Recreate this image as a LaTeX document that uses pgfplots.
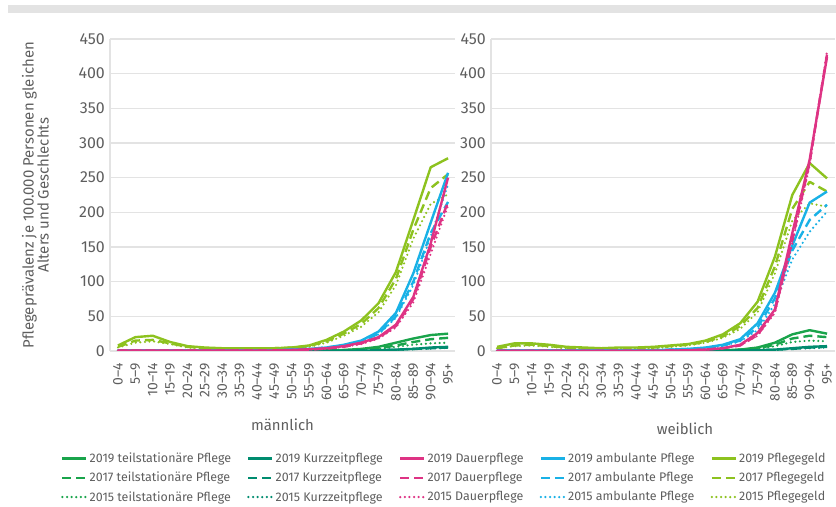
\documentclass[border=0pt]{standalone}
\usepackage{pgfplots}
\pgfplotsset{compat=1.18}
\usepackage{pgfplotstable}
\usepackage{fontspec}
\setmainfont{Fira Sans}
\definecolor{cT}{HTML}{19A44B}
\definecolor{cK}{HTML}{008C6F}
\definecolor{cD}{HTML}{DE3384}
\definecolor{cA}{HTML}{19B1E6}
\definecolor{cP}{HTML}{8DC21F}
\definecolor{txt}{HTML}{5E5E5E}
\definecolor{gridc}{HTML}{E3E3E3}

\pgfplotstableread{
i t19 t17 t15 k19 k17 k15 d19 d17 d15 a19 a17 a15 p19 p17 p15
0 0 0 0 0 0 0 0.5 0.5 0.5 0.8 0.8 0.8 8 6 5
1 0 0 0 0 0 0 0.5 0.5 0.5 0.8 0.8 0.8 20 15 12
2 0 0 0 0 0 0 0.5 0.5 0.5 0.8 0.8 0.8 22 16 14
3 0 0 0 0 0 0 0.5 0.5 0.5 0.8 0.8 0.8 13 11 10
4 0 0 0 0 0 0 0.5 0.5 0.5 0.8 0.8 0.8 7 6 5
5 0 0 0 0 0 0 0.5 0.5 0.5 0.8 0.8 0.8 5 4 4
6 0 0 0 0 0 0 0.5 0.5 0.5 0.8 0.8 0.8 4 4 3
7 0 0 0 0 0 0 0.5 0.5 0.5 0.8 0.8 0.8 4 3 3
8 0 0 0 0 0 0 0.6 0.6 0.6 0.9 0.9 0.9 4 3 3
9 0 0 0 0 0 0 0.8 0.8 0.7 1 1 1 4 4 4
10 0.2 0.2 0.1 0 0 0 1.5 1.2 1 2 2 2 5 5 4
11 0.5 0.3 0.3 0.1 0.1 0.1 2.5 2 2 3 3 3 8 7 6
12 1 0.7 0.5 0.2 0.2 0.1 4 3.5 3 5 5 4 16 14 12
13 1.5 1 1 0.3 0.3 0.2 7 6 6 9 8 8 28 25 22
14 3 2 2 0.5 0.5 0.4 12 11 10 15 14 13 44 39 35
15 6 4 3 1 1 0.8 20 19 18 28 25 24 69 62 56
16 12 8 6 2 2 1.5 38 36 34 55 50 48 114 104 95
17 18 13 9 3 3 2.5 78 75 70 112 100 95 189 175 162
18 23 17 11 5 4 3.5 155 150 140 185 170 165 265 235 212
19 25 19 12 6 5 4.5 250 215 210 257 215 240 278 255 226
}\male

\pgfplotstableread{
i t19 t17 t15 k19 k17 k15 d19 d17 d15 a19 a17 a15 p19 p17 p15
0 0 0 0 0 0 0 0.3 0.3 0.3 0.8 0.8 0.8 6 4 4
1 0 0 0 0 0 0 0.3 0.3 0.3 0.8 0.8 0.8 11 8 7
2 0 0 0 0 0 0 0.3 0.3 0.3 0.8 0.8 0.8 11 9 8
3 0 0 0 0 0 0 0.3 0.3 0.3 0.8 0.8 0.8 9 7 6
4 0 0 0 0 0 0 0.3 0.3 0.3 0.8 0.8 0.8 6 5 4
5 0 0 0 0 0 0 0.3 0.3 0.3 0.8 0.8 0.8 5 4 4
6 0 0 0 0 0 0 0.3 0.3 0.3 0.8 0.8 0.8 4 4 3
7 0 0 0 0 0 0 0.3 0.3 0.3 0.8 0.8 0.8 5 4 3
8 0 0 0 0 0 0 0.3 0.3 0.3 0.9 0.9 0.9 5 4 4
9 0 0 0 0 0 0 0.3 0.3 0.3 1 1 1 6 5 4
10 0 0 0 0 0 0 0.5 0.5 0.5 2 2 2 8 7 6
11 0.2 0.2 0.1 0 0 0 1 1 1 3 3 3 10 9 8
12 0.5 0.5 0.3 0.1 0.1 0.1 2 2 2 5 4 4 15 13 12
13 1 1 0.7 0.3 0.3 0.2 4 4 3.5 9 8 7 24 21 19
14 2 2 1.5 0.5 0.5 0.4 9 8 8 17 15 14 40 36 32
15 5 4 3 1 1 0.8 26 23 22 40 34 30 71 62 56
16 12 9 7 2 2 1.5 60 58 55 84 76 68 136 122 112
17 24 18 13 4 3 3 170 160 155 152 145 132 225 205 188
18 30 22 15 6 5 4 276 272 268 214 189 172 271 244 213
19 25 20 14 7 6 5 424 428 432 230 211 201 249 230 208
}\female

\pgfplotsset{
  s19/.style={solid},
  s17/.style={dash pattern=on 9bp off 5bp},
  s15/.style={dash pattern=on 0bp off 4.6bp, line cap=round},
  base/.style={
    scale only axis, height=312bp,
    /pgf/number format/assume math mode=true,
    ymin=0, ymax=450, ytick={0,50,...,450},
    xtick={0,...,19},
    xticklabels={0--4,5--9,10--14,15--19,20--24,25--29,30--34,35--39,40--44,45--49,50--54,55--59,60--64,65--69,70--74,75--79,80--84,85--89,90--94,95+},
    axis x line*=bottom, axis y line*=left,
    axis line style={draw=gridc, line width=1.2bp, -},
    ymajorgrids, grid style={draw=gridc, line width=1.2bp},
    major tick length=0pt,
    tick label style={text=txt},
    yticklabel style={font=\fontsize{16}{16}\selectfont, anchor=east, inner sep=0pt},
    yticklabel shift=5bp,
    xticklabel style={rotate=90, anchor=east, inner sep=0pt, font=\fontsize{14}{14}\selectfont},
    xticklabel shift=12bp,
    every axis plot/.append style={line width=2.4bp, line join=round},
    label style={text=txt, font=\fontsize{15}{15}\selectfont},
  },
}
\newcommand\drawall[1]{%
  \addplot[forget plot, cT, s19] table[x=i,y=t19]{#1};
  \addplot[forget plot, cT, s17] table[x=i,y=t17]{#1};
  \addplot[forget plot, cT, s15] table[x=i,y=t15]{#1};
  \addplot[forget plot, cK, s19] table[x=i,y=k19]{#1};
  \addplot[forget plot, cK, s17] table[x=i,y=k17]{#1};
  \addplot[forget plot, cK, s15] table[x=i,y=k15]{#1};
  \addplot[forget plot, cP, s19] table[x=i,y=p19]{#1};
  \addplot[forget plot, cP, s17] table[x=i,y=p17]{#1};
  \addplot[forget plot, cP, s15] table[x=i,y=p15]{#1};
  \addplot[forget plot, cA, s19] table[x=i,y=a19]{#1};
  \addplot[forget plot, cA, s17] table[x=i,y=a17]{#1};
  \addplot[forget plot, cA, s15] table[x=i,y=a15]{#1};
  \addplot[forget plot, cD, s19] table[x=i,y=d19]{#1};
  \addplot[forget plot, cD, s17] table[x=i,y=d17]{#1};
  \addplot[forget plot, cD, s15] table[x=i,y=d15]{#1};
}

\begin{document}
\begin{tikzpicture}
\useasboundingbox (0bp,0bp) rectangle (836bp,507bp);
\fill[gridc] (8bp,494bp) rectangle (836bp,502bp);

\begin{axis}[base, width=345bp, at={(110bp,156bp)}, anchor=south west,
  xmin=-0.46, xmax=19.4,
  xlabel={männlich},
  xlabel style={at={(axis description cs:0.5,-0.237)}, anchor=center},
  ylabel={Pflegeprävalenz je 100.000 Personen gleichen\\Alters und Geschlechts},
  ylabel style={at={(axis description cs:-0.216,0.5)}, anchor=center, rotate=0, align=center},
  legend columns=5,
  legend cell align=left,
  legend image code/.code={\draw[#1, line width=2.5bp] (0bp,0bp) -- (24bp,0bp);},
  legend style={at={(axis description cs:-0.142,-0.32)}, anchor=north west,
    draw=none, fill=none, inner sep=0pt, text=txt,
    font=\fontsize{12.5}{14}\selectfont, row sep=4bp,
    /tikz/every even column/.append style={column sep=14bp}},
]
\addlegendimage{cT, s19}\addlegendentry{2019 teilstationäre Pflege}
\addlegendimage{cK, s19}\addlegendentry{2019 Kurzzeitpflege}
\addlegendimage{cD, s19}\addlegendentry{2019 Dauerpflege}
\addlegendimage{cA, s19}\addlegendentry{2019 ambulante Pflege}
\addlegendimage{cP, s19}\addlegendentry{2019 Pflegegeld}
\addlegendimage{cT, s17}\addlegendentry{2017 teilstationäre Pflege}
\addlegendimage{cK, s17}\addlegendentry{2017 Kurzzeitpflege}
\addlegendimage{cD, s17}\addlegendentry{2017 Dauerpflege}
\addlegendimage{cA, s17}\addlegendentry{2017 ambulante Pflege}
\addlegendimage{cP, s17}\addlegendentry{2017 Pflegegeld}
\addlegendimage{cT, s15}\addlegendentry{2015 teilstationäre Pflege}
\addlegendimage{cK, s15}\addlegendentry{2015 Kurzzeitpflege}
\addlegendimage{cD, s15}\addlegendentry{2015 Dauerpflege}
\addlegendimage{cA, s15}\addlegendentry{2015 ambulante Pflege}
\addlegendimage{cP, s15}\addlegendentry{2015 Pflegegeld}
\drawall{\male}
\end{axis}

\begin{axis}[base, width=344bp, at={(491bp,156bp)}, anchor=south west,
  xmin=-0.35, xmax=19.46,
  xlabel={weiblich},
  xlabel style={at={(axis description cs:0.564,-0.248)}, anchor=center},
]
\drawall{\female}
\end{axis}
\end{tikzpicture}
\end{document}
